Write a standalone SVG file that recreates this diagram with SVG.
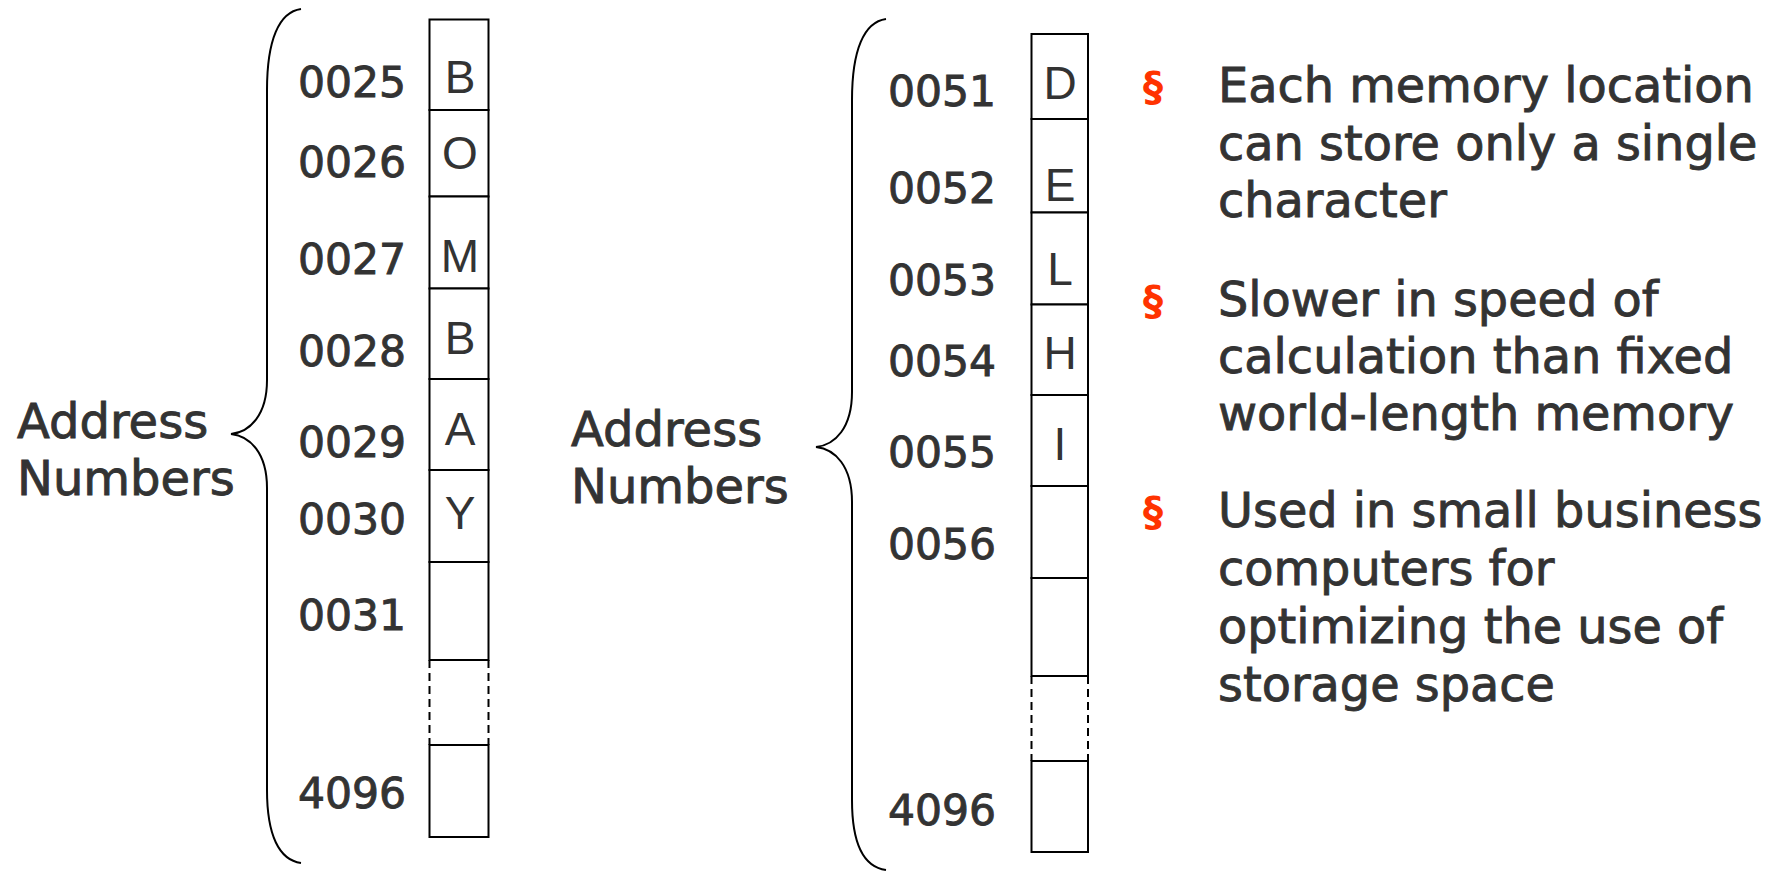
<svg xmlns="http://www.w3.org/2000/svg" width="1781" height="872" viewBox="0 0 1781 872">
<style>
.lbl{font-family:"DejaVu Sans","Verdana",sans-serif;font-size:48px;fill:#333333;stroke:#333333;stroke-width:0.9}
.num{font-family:"DejaVu Sans","Verdana",sans-serif;font-size:42.5px;fill:#333333;stroke:#333333;stroke-width:0.9}
.ch{font-family:"Liberation Sans","Arial",sans-serif;font-size:46px;fill:#333333;text-anchor:middle}
.txt{font-family:"DejaVu Sans","Verdana",sans-serif;font-size:47.8px;fill:#333333;stroke:#333333;stroke-width:0.9}
.bul{font-family:"DejaVu Sans","Verdana",sans-serif;font-size:40px;font-weight:bold;fill:#ff3300}
.cell{fill:#ffffff;stroke:#000000;stroke-width:2}
.dash{fill:none;stroke:#000000;stroke-width:2;stroke-dasharray:8 5}
.brace{fill:none;stroke:#000000;stroke-width:2}
</style>
<rect width="1781" height="872" fill="#ffffff"/>
<g id="connectors">
<path class="brace" d="M301,9 C279,12 267,40 267,90 L267,380 C267,415 250,432 231,434 C250,436 267,453 267,488 L267,790 C267,835 279,860 301,863"/>
<path class="brace" d="M886,19 C864,22 852,50 852,100 L852,392 C852,428 835,445 816,447 C835,449 852,466 852,502 L852,800 C852,845 864,867 886,870"/>
</g>
<g id="label-left">
<text class="lbl" x="17" y="438">Address</text>
<text class="lbl" x="17" y="495">Numbers</text>
</g>
<g id="label-mid">
<text class="lbl" x="571" y="446">Address</text>
<text class="lbl" x="571" y="503">Numbers</text>
</g>
<g id="memory-left">
<rect class="cell" x="429.5" y="19.5" width="59" height="90.5"/>
<rect class="cell" x="429.5" y="110" width="59" height="86.5"/>
<rect class="cell" x="429.5" y="196.5" width="59" height="92"/>
<rect class="cell" x="429.5" y="288.5" width="59" height="90.5"/>
<rect class="cell" x="429.5" y="379" width="59" height="91"/>
<rect class="cell" x="429.5" y="470" width="59" height="92"/>
<rect class="cell" x="429.5" y="562" width="59" height="98"/>
<line class="dash" x1="429.5" y1="660" x2="429.5" y2="745"/>
<line class="dash" x1="488.5" y1="660" x2="488.5" y2="745"/>
<rect class="cell" x="429.5" y="745" width="59" height="92"/>
<text class="ch" x="460" y="93">B</text>
<text class="ch" x="460" y="169">O</text>
<text class="ch" x="460" y="272">M</text>
<text class="ch" x="460" y="354">B</text>
<text class="ch" x="460" y="445">A</text>
<text class="ch" x="460" y="529">Y</text>
<text class="num" x="298" y="97">0025</text>
<text class="num" x="298" y="177">0026</text>
<text class="num" x="298" y="274">0027</text>
<text class="num" x="298" y="366">0028</text>
<text class="num" x="298" y="457">0029</text>
<text class="num" x="298" y="534">0030</text>
<text class="num" x="298" y="630">0031</text>
<text class="num" x="298" y="808">4096</text>
</g>
<g id="memory-mid">
<rect class="cell" x="1031.5" y="34" width="56.5" height="85"/>
<rect class="cell" x="1031.5" y="119" width="56.5" height="93.5"/>
<rect class="cell" x="1031.5" y="212.5" width="56.5" height="92"/>
<rect class="cell" x="1031.5" y="304.5" width="56.5" height="90.5"/>
<rect class="cell" x="1031.5" y="395" width="56.5" height="91"/>
<rect class="cell" x="1031.5" y="486" width="56.5" height="92"/>
<rect class="cell" x="1031.5" y="578" width="56.5" height="98"/>
<line class="dash" x1="1031.5" y1="676" x2="1031.5" y2="761"/>
<line class="dash" x1="1088" y1="676" x2="1088" y2="761"/>
<rect class="cell" x="1031.5" y="761" width="56.5" height="91"/>
<text class="ch" x="1060" y="99">D</text>
<text class="ch" x="1060" y="201">E</text>
<text class="ch" x="1060" y="285">L</text>
<text class="ch" x="1060" y="369">H</text>
<text class="ch" x="1060" y="460">I</text>
<text class="num" x="888" y="106">0051</text>
<text class="num" x="888" y="203">0052</text>
<text class="num" x="888" y="295">0053</text>
<text class="num" x="888" y="376">0054</text>
<text class="num" x="888" y="467">0055</text>
<text class="num" x="888" y="559">0056</text>
<text class="num" x="888" y="825">4096</text>
</g>
<g id="bullet-1">
<text class="bul" x="1143" y="101">§</text>
<text class="txt" x="1218" y="102">Each memory location</text>
<text class="txt" x="1218" y="160">can store only a single</text>
<text class="txt" x="1218" y="217">character</text>
</g>
<g id="bullet-2">
<text class="bul" x="1143" y="315">§</text>
<text class="txt" x="1218" y="316">Slower in speed of</text>
<text class="txt" x="1218" y="373">calculation than fixed</text>
<text class="txt" x="1218" y="430">world-length memory</text>
</g>
<g id="bullet-3">
<text class="bul" x="1143" y="526">§</text>
<text class="txt" x="1218" y="527">Used in small business</text>
<text class="txt" x="1218" y="585">computers for</text>
<text class="txt" x="1218" y="643">optimizing the use of</text>
<text class="txt" x="1218" y="701">storage space</text>
</g>
</svg>
